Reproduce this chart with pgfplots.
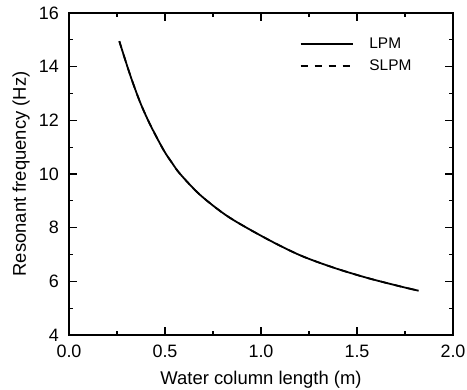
\documentclass[border=0pt]{standalone}
\usepackage{pgfplots}
\pgfplotsset{compat=1.18}
\usepackage{fontspec}
\setmainfont{Liberation Sans}
\begin{document}
\begin{tikzpicture}
\begin{axis}[
  scale only axis,
  width=384bp, height=322bp,
  xmin=0, xmax=2, ymin=4, ymax=16,
  xtick={0,0.5,1,1.5,2},
  xticklabels={0.0,0.5,1.0,1.5,2.0},
  ytick={4,6,8,10,12,14,16},
  minor x tick num=1, minor y tick num=1,
  tick align=inside,
  major tick length=8bp, minor tick length=4bp,
  every tick/.style={black, line width=1.1pt},
  axis line style={line width=1.6pt},
  /pgf/number format/assume math mode=true,
  tick label style={font=\fontsize{18}{20}\selectfont},
  xticklabel style={anchor=base, inner sep=0pt, yshift=-22bp},
  yticklabel style={anchor=east, inner sep=0pt, xshift=-10bp},
  label style={font=\fontsize{18.5}{21}\selectfont},
  xlabel={Water column length (m)},
  ylabel={Resonant frequency (Hz)},
  xlabel style={at={([yshift=-49bp]axis description cs:0.5,0)}, anchor=base, inner sep=0pt},
  ylabel style={at={([xshift=-43bp]axis description cs:0,0.5)}, anchor=base, inner sep=0pt},
  legend style={draw=none, fill=none, at={(0.60,0.93)}, anchor=north west,
    font=\fontsize{15.5}{18}\selectfont, row sep=6bp, inner sep=0pt},
  legend cell align=left,
  legend image code/.code={\draw[#1] (0bp,0bp) -- (52bp,0bp); \path (66bp,0bp);},
]
\addplot[black, line width=1.8pt, smooth] coordinates {
(0.262,14.95) (0.318,13.70) (0.370,12.68) (0.422,11.85) (0.492,10.90)
(0.540,10.38) (0.579,10.00) (0.683,9.22) (0.831,8.40) (1.031,7.58) (1.204,6.97)
(1.378,6.51) (1.552,6.13) (1.726,5.81) (1.821,5.65)
};
\addlegendentry{LPM}
\addplot[black, line width=1.7pt, dash pattern=on 7bp off 7bp, smooth] coordinates {
(0.262,14.95) (0.318,13.70) (0.370,12.68) (0.422,11.85) (0.492,10.90)
(0.540,10.38) (0.579,10.00) (0.683,9.22) (0.831,8.40) (1.031,7.58) (1.204,6.97)
(1.378,6.51) (1.552,6.13) (1.726,5.81) (1.821,5.65)
};
\addlegendentry{SLPM}
\end{axis}
\path (current axis.south west) +(-69bp,-55bp) (current axis.north east) +(14bp,13bp);
\end{tikzpicture}
\end{document}
